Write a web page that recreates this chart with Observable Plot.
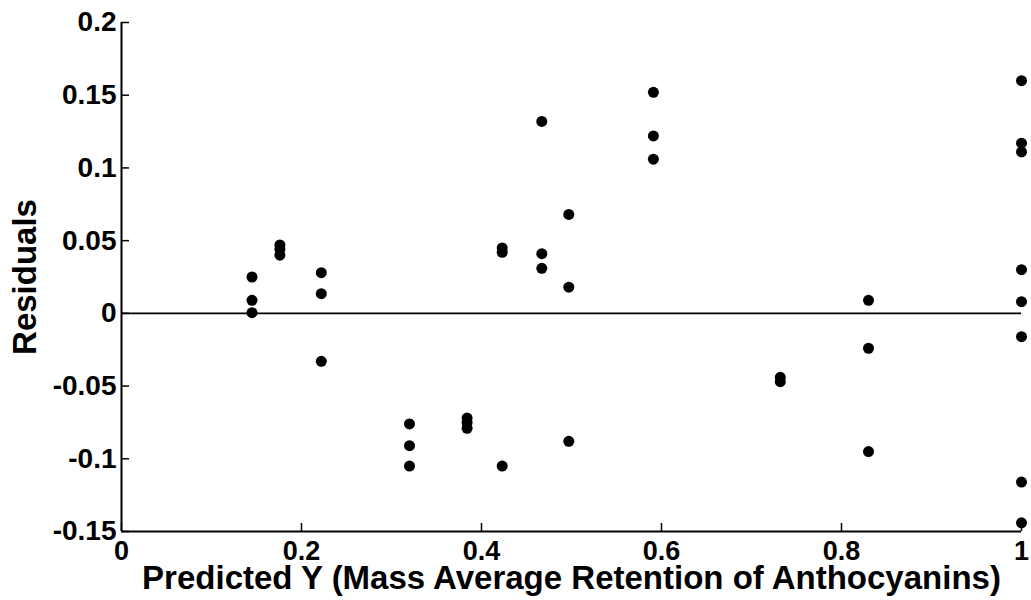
<!DOCTYPE html>
<html>
<head>
<meta charset="utf-8">
<script src="https://cdn.jsdelivr.net/npm/d3@7"></script>
<script src="https://cdn.jsdelivr.net/npm/@observablehq/plot@0.6"></script>
<style>
  html, body { margin: 0; padding: 0; background: #fff; }
  svg { display: block; }
</style>
</head>
<body>
<div id="chart"></div>
<script>
const predicted = [
  0.145, 0.145, 0.145,
  0.176, 0.176, 0.176,
  0.222, 0.222, 0.222,
  0.320, 0.320, 0.320,
  0.384, 0.384, 0.384,
  0.423, 0.423, 0.423,
  0.467, 0.467, 0.467,
  0.497, 0.497, 0.497,
  0.591, 0.591, 0.591,
  0.732, 0.732,
  0.830, 0.830, 0.830,
  1.0, 1.0, 1.0, 1.0, 1.0, 1.0, 1.0, 1.0
];
const residuals = [
  0.025, 0.009, 0.0005,
  0.047, 0.044, 0.040,
  0.028, 0.0135, -0.033,
  -0.076, -0.091, -0.105,
  -0.072, -0.075, -0.079,
  0.045, 0.042, -0.105,
  0.132, 0.041, 0.031,
  0.068, 0.018, -0.088,
  0.152, 0.122, 0.106,
  -0.044, -0.047,
  0.009, -0.024, -0.095,
  0.160, 0.117, 0.111, 0.030, 0.008, -0.016, -0.116, -0.144
];
const xTicks = [0, 0.2, 0.4, 0.6, 0.8, 1];
const yTicks = [-0.15, -0.1, -0.05, 0, 0.05, 0.1, 0.15, 0.2];
const xDomain = [0, 1];
const yDomain = [-0.15, 0.2];
const xTitle = "Predicted Y (Mass Average Retention of Anthocyanins)";
const yTitle = "Residuals";

const points = predicted.map((p, i) => ({p, r: residuals[i]}));

const W = 1031, H = 600;
const mL = 121, mR = 10, mT = 22, mB = 69;
const frameH = H - mT - mB, frameW = W - mL - mR;
const tickLen = 8;
const fmt = d => String(+d.toFixed(2));

const chart = Plot.plot({
  width: W,
  height: H,
  marginLeft: mL,
  marginRight: mR,
  marginTop: mT,
  marginBottom: mB,
  style: {fontFamily: "Arial, 'Liberation Sans', sans-serif", background: "#fff", color: "#000"},
  x: {domain: xDomain},
  y: {domain: yDomain},
  marks: [
    Plot.axisX(xTicks, {tickSize: 0, tickPadding: 9, tickFormat: fmt, fontSize: 27, fontWeight: "bold", label: null}),
    Plot.axisY(yTicks, {tickSize: 0, tickPadding: 5, tickFormat: fmt, fontSize: 28, fontWeight: "bold", label: null}),
    Plot.tickX(xTicks, {x: d => d, insetTop: frameH - tickLen, stroke: "#000", strokeWidth: 1.5}),
    Plot.tickY(yTicks, {y: d => d, insetRight: frameW - tickLen, stroke: "#000", strokeWidth: 1.5}),
    Plot.ruleX([xDomain[0]], {stroke: "#000", strokeWidth: 2}),
    Plot.ruleY([yDomain[0]], {stroke: "#000", strokeWidth: 2}),
    Plot.ruleY([0], {stroke: "#000", strokeWidth: 1.8}),
    Plot.dot(points, {x: "p", y: "r", r: 5.5, fill: "#000", stroke: null}),
    Plot.text([xTitle], {frameAnchor: "bottom", lineAnchor: "bottom", textAnchor: "middle", dy: 57, fontSize: 33, fontWeight: "bold", fill: "#000"}),
    Plot.text([yTitle], {frameAnchor: "left", lineAnchor: "bottom", textAnchor: "middle", rotate: -90, dx: -86, fontSize: 33, fontWeight: "bold", fill: "#000"})
  ]
});
document.getElementById("chart").appendChild(chart);
</script>
</body>
</html>
